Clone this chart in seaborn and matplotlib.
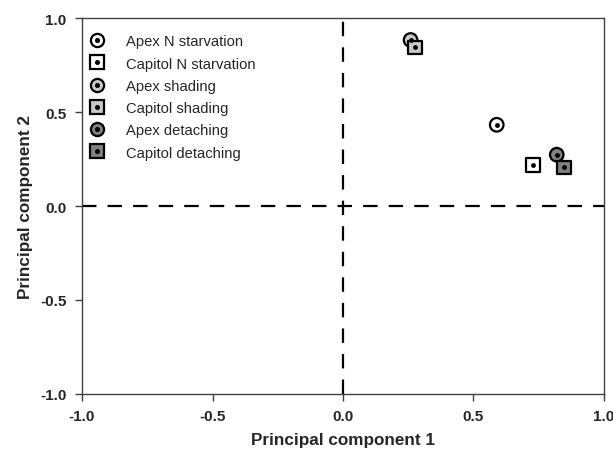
import numpy as np
import matplotlib
matplotlib.use('Agg')
import matplotlib.pyplot as plt
import seaborn as sns
import pandas as pd
from matplotlib.lines import Line2D
from matplotlib.legend_handler import HandlerTuple

# data
groups = ['Apex N starvation', 'Capitol N starvation', 'Apex shading',
          'Capitol shading', 'Apex detaching', 'Capitol detaching']
pc1 = [0.589, 0.727, 0.259, 0.276, 0.819, 0.847]
pc2 = [0.432, 0.218, 0.883, 0.844, 0.273, 0.206]
shapes = ['o', 's', 'o', 's', 'o', 's']
fills = ['white', 'white', '#c8c8c8', '#c8c8c8', '#808080', '#808080']

df = pd.DataFrame({'group': groups, 'PC1': pc1, 'PC2': pc2})

sns.set_style('white')
plt.rcParams['font.family'] = ['Liberation Sans', 'DejaVu Sans']

fig = plt.figure(figsize=(6.13, 4.56), dpi=100)
ax = fig.add_axes([0.1338, 0.1338, 0.8515, 0.8245])

# reference lines
ax.axhline(0, color='black', lw=1.6, ls=(0, (6.5, 5)), zorder=1)
ax.axvline(0, color='black', lw=1.6, ls=(0, (6.5, 5)), zorder=1)

sns.scatterplot(data=df, x='PC1', y='PC2', hue='group', style='group',
                palette=dict(zip(groups, fills)),
                markers=dict(zip(groups, shapes)),
                s=95, edgecolor='black', linewidth=1.6, legend=False,
                ax=ax, zorder=3)
# centre dots
for i in range(len(groups)):
    ax.scatter(pc1[i], pc2[i], s=6, color='black', zorder=4 + i)

ax.set_xlim(-1, 1)
ax.set_ylim(-1, 1)
ticks = [-1.0, -0.5, 0.0, 0.5, 1.0]
ax.set_xticks(ticks)
ax.set_yticks(ticks)
ax.set_xticklabels([f'{t:.1f}' for t in ticks], fontweight='bold', fontsize=11)
ax.set_yticklabels([f'{t:.1f}' for t in ticks], fontweight='bold', fontsize=11)
ax.tick_params(direction='out', length=5, width=1, color='#404040',
               bottom=True, left=True, top=False, right=False, pad=6)
for sp in ax.spines.values():
    sp.set_color('#404040')
    sp.set_linewidth(1)

ax.set_xlabel('Principal component 1', fontweight='bold', fontsize=12.3, labelpad=6)
ax.set_ylabel('Principal component 2', fontweight='bold', fontsize=12.3, labelpad=5)

handles = []
for m, f in zip(shapes, fills):
    big = Line2D([], [], marker=m, ls='none', markersize=9.5, markerfacecolor=f,
                 markeredgecolor='black', markeredgewidth=1.6)
    dot = Line2D([], [], marker='o', ls='none', markersize=2.6, color='black')
    handles.append((big, dot))
ax.legend(handles, groups, handler_map={tuple: HandlerTuple(ndivide=1, pad=0)},
          loc='upper left', bbox_to_anchor=(-0.012, 0.99), frameon=False, fontsize=10.6,
          handlelength=1.2, handletextpad=1.35, labelspacing=0.56, borderpad=0.55,
          borderaxespad=0.3)

fig.savefig('out.png', dpi=100)
